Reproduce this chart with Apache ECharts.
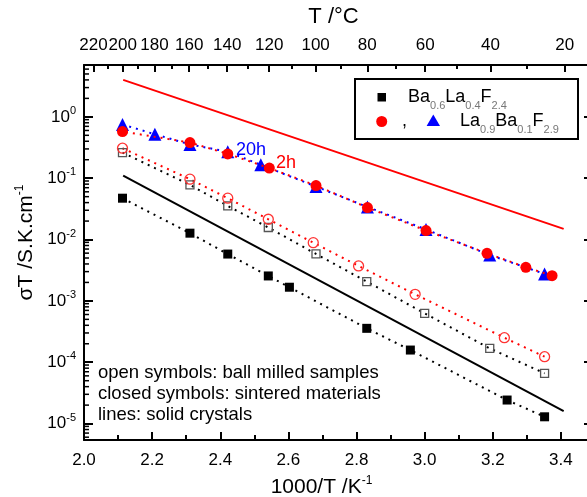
<!DOCTYPE html>
<html><head><meta charset="utf-8">
<script src="https://cdn.jsdelivr.net/npm/echarts@6/dist/echarts.min.js"></script>
<style>html,body{margin:0;padding:0;background:#fff}#c{width:587px;height:497px}</style>
</head><body><div id="c"></div>
<script>
// ---- data (x = 1000/T in K^-1, y = sigma*T in S.K.cm^-1) ----
const closedBaLaX = [2.113, 2.311, 2.422, 2.541, 2.603, 2.830, 2.958, 3.242, 3.352];
const closedBaLaY = [0.0472, 0.0127, 0.0058, 0.00255, 0.00167, 3.57e-4, 1.58e-4, 2.42e-5, 1.29e-5];

const openBaLaX = [2.113, 2.311, 2.422, 2.541, 2.681, 2.830, 3.000, 3.191, 3.352];
const openBaLaY = [0.262, 0.0778, 0.0353, 0.0157, 0.00582, 0.00206, 6.27e-4, 1.68e-4, 6.6e-5];

const openLaBaX = [2.113, 2.311, 2.422, 2.541, 2.673, 2.806, 2.972, 3.234, 3.352];
const openLaBaY = [0.308, 0.0964, 0.0472, 0.0214, 0.0089, 0.00371, 0.00128, 2.51e-4, 1.23e-4];

const closed2hX = [2.113, 2.311, 2.422, 2.544, 2.681, 2.832, 3.004, 3.183, 3.297, 3.374];
const closed2hY = [0.576, 0.381, 0.249, 0.146, 0.0758, 0.0332, 0.0140, 0.00597, 0.00353, 0.00258];

const closed20hX = [2.113, 2.208, 2.311, 2.422, 2.519, 2.681, 2.832, 3.004, 3.191, 3.352];
const closed20hY = [0.75, 0.52, 0.355, 0.27, 0.165, 0.073, 0.034, 0.0146, 0.0056, 0.00275];

const crystalX = [2.115, 3.408];
const crystalLaBaY = [4.0, 0.0149];
const crystalBaLaY = [0.110, 1.6e-5];

const topTempLabels = [220, 200, 180, 160, 140, 120, 100, 80, 60, 40, 20];
const topTempMinor = [210, 190, 170, 150, 130, 110, 90, 70, 50, 30];
const yMinorMult = [2, 3, 4, 5, 6, 7, 8, 9];
const yDecadeExp = [-6, -5, -4, -3, -2, -1, 0];

const X_MIN = 2.0, X_MAX = 3.5, Y_MIN = 5.4e-6, Y_MAX = 7;
const FONT = '"Liberation Sans", Arial, sans-serif';

function pairs(xs, ys) { return xs.map((x, i) => [x, ys[i]]); }
const tToX = t => 1000 / (t + 273.15);
const yMinorVals = [];
yDecadeExp.forEach(e => yMinorMult.forEach(k => {
  const v = k * Math.pow(10, e);
  if (v > Y_MIN && v < Y_MAX) yMinorVals.push(v);
}));

const chart = echarts.init(document.getElementById('c'), null, {renderer: 'canvas'});
const axisLine = {show: true, lineStyle: {color: '#000', width: 2}};
const dotted = (c, off) => ({color: c, width: 2, type: [2, 5], dashOffset: off || 0});

chart.setOption({
  animation: false,
  backgroundColor: '#fff',
  textStyle: {fontFamily: FONT},
  grid: {left: 84, right: -8, top: 65, bottom: 57, containLabel: false, outerBoundsMode: 'none'},
  xAxis: [
    {
      type: 'value', position: 'bottom', min: X_MIN, max: X_MAX, interval: 0.2,
      axisLine: axisLine,
      axisTick: {inside: true, length: 8, lineStyle: {width: 2, color: '#000'}},
      minorTick: {show: true, splitNumber: 2, length: 5, lineStyle: {width: 2, color: '#000'}},
      splitLine: {show: false},
      axisLabel: {
        margin: 12, fontSize: 17, color: '#000', fontFamily: FONT,
        formatter: v => (Math.abs(v * 5 - Math.round(v * 5)) < 1e-6 ? v.toFixed(1) : '')
      },
      name: '1000/T /K{s|-1}', nameLocation: 'middle', nameGap: 35,
      nameTextStyle: {fontSize: 21, color: '#000', fontFamily: FONT, padding: [0, 36, 0, 0],
        rich: {s: {fontSize: 12, color: '#000', padding: [0, 0, 12, 0]}}}
    },
    {
      type: 'value', position: 'top', min: X_MIN, max: X_MAX,
      axisLine: axisLine,
      axisTick: {inside: true, length: 7, lineStyle: {width: 2, color: '#000'},
        customValues: topTempLabels.map(tToX)},
      splitLine: {show: false},
      axisLabel: {
        margin: 11, fontSize: 17, color: '#000', fontFamily: FONT,
        customValues: topTempLabels.map(tToX),
        formatter: v => String(Math.round(1000 / v - 273.15))
      },
      name: 'T /°C', nameLocation: 'middle', nameGap: 37,
      nameTextStyle: {fontSize: 22, color: '#000', fontFamily: FONT, padding: [0, 12, 0, 0]}
    },
    {
      type: 'value', position: 'top', min: X_MIN, max: X_MAX,
      axisLine: {show: false},
      axisTick: {inside: true, length: 4, lineStyle: {width: 2, color: '#000'},
        customValues: topTempMinor.map(tToX)},
      axisLabel: {show: false},
      splitLine: {show: false}
    }
  ],
  yAxis: [
    {
      type: 'log', logBase: 10, position: 'left', min: Y_MIN, max: Y_MAX,
      axisLine: axisLine,
      axisTick: {inside: true, length: 9, lineStyle: {width: 2, color: '#000'}},
      splitLine: {show: false},
      axisLabel: {
        margin: 8, color: '#000', fontFamily: FONT,
        formatter: v => {
          const e = Math.round(Math.log10(v));
          if (Math.abs(v - Math.pow(10, e)) / Math.pow(10, e) > 1e-6) return '';
          return '{b|10}{s|' + e + '}';
        },
        rich: {
          b: {fontSize: 17, color: '#000', fontFamily: FONT},
          s: {fontSize: 11, color: '#000', fontFamily: FONT, padding: [0, 0, 12, 0]}
        }
      },
      name: 'σT /S.K.cm{s|-1}', nameLocation: 'middle', nameGap: 44,
      nameTextStyle: {fontSize: 21, color: '#000', fontFamily: FONT, padding: [0, 0, 0, 20],
        rich: {s: {fontSize: 12, color: '#000', padding: [0, 0, 12, 0]}}}
    },
    {
      type: 'log', logBase: 10, position: 'right', offset: 0, min: Y_MIN, max: Y_MAX,
      axisLine: axisLine,
      axisTick: {inside: true, length: 11, lineStyle: {width: 2, color: '#000'}},
      axisLabel: {show: false},
      splitLine: {show: false}
    }
  ],
  series: [
    {type: 'custom', name: 'y minor ticks', silent: true, clip: false, z: 1,
      data: yMinorVals.map(v => [X_MIN, v]),
      renderItem: (params, api) => {
        const p = api.coord([api.value(0), api.value(1)]);
        return {type: 'line', shape: {x1: p[0], y1: p[1], x2: p[0] + 5, y2: p[1]},
          style: {stroke: '#000', lineWidth: 1.5}};
      }},
    {type: 'line', name: 'crystal LaBa', data: pairs(crystalX, crystalLaBaY), symbol: 'none',
      lineStyle: {color: '#ff0000', width: 2}, z: 2},
    {type: 'line', name: 'crystal BaLa', data: pairs(crystalX, crystalBaLaY), symbol: 'none',
      lineStyle: {color: '#000', width: 2}, z: 2},
    {type: 'line', name: 'open BaLa', data: pairs(openBaLaX, openBaLaY),
      symbol: 'rect', symbolSize: 8, showAllSymbol: true,
      itemStyle: {color: 'rgba(255,255,255,0)', borderColor: '#555', borderWidth: 1.3},
      lineStyle: dotted('#000'), z: 3},
    {type: 'line', name: 'open LaBa', data: pairs(openLaBaX, openLaBaY),
      symbol: 'circle', symbolSize: 10, showAllSymbol: true,
      itemStyle: {color: 'rgba(255,255,255,0)', borderColor: '#ff3333', borderWidth: 1.3},
      lineStyle: dotted('#ff0000'), z: 3},
    {type: 'line', name: 'closed BaLa', data: pairs(closedBaLaX, closedBaLaY),
      symbol: 'rect', symbolSize: 9, showAllSymbol: true,
      itemStyle: {color: '#000'}, lineStyle: dotted('#000'), z: 4},
    {type: 'line', name: 'closed LaBa 20h', data: pairs(closed20hX, closed20hY),
      symbol: 'triangle', symbolSize: 13, showAllSymbol: true,
      itemStyle: {color: '#0000ff'}, lineStyle: dotted('#0000ff'), z: 4},
    {type: 'line', name: 'closed LaBa 2h', data: pairs(closed2hX, closed2hY),
      symbol: 'circle', symbolSize: 11, showAllSymbol: true,
      itemStyle: {color: '#ff0000'}, lineStyle: dotted('#ff0000', 3.5), z: 5}
  ],
  graphic: [
    {type: 'rect', shape: {x: 355, y: 79, width: 223, height: 60},
      style: {fill: '#fff', stroke: '#000', lineWidth: 2}, z: 10},
    {type: 'rect', shape: {x: 377.5, y: 93, width: 8.5, height: 8.5}, style: {fill: '#000'}, z: 11},
    {type: 'text', x: 408, y: 97, z: 11, style: {
      text: 'Ba{s|0.6}La{s|0.4}F{s|2.4}', fontSize: 18, fontFamily: FONT, fill: '#000',
      verticalAlign: 'middle',
      rich: {s: {fontSize: 11, fontFamily: FONT, fill: '#777', padding: [18, 0, 0, 0]}}}},
    {type: 'circle', shape: {cx: 381.7, cy: 121.5, r: 5.5}, style: {fill: '#ff0000'}, z: 11},
    {type: 'text', x: 402, y: 121, z: 11, style: {text: ',', fontSize: 18, fontFamily: FONT, fill: '#000', verticalAlign: 'middle'}},
    {type: 'polygon', shape: {points: [[433.3, 114.5], [440, 126], [426.6, 126]]}, style: {fill: '#0000ff'}, z: 11},
    {type: 'text', x: 460, y: 121, z: 11, style: {
      text: 'La{s|0.9}Ba{s|0.1}F{s|2.9}', fontSize: 18, fontFamily: FONT, fill: '#000',
      verticalAlign: 'middle',
      rich: {s: {fontSize: 11, fontFamily: FONT, fill: '#777', padding: [18, 0, 0, 0]}}}},
    {type: 'text', x: 236, y: 150, z: 11, style: {text: '20h', fontSize: 18, fontFamily: FONT, fill: '#0000ff', verticalAlign: 'middle'}},
    {type: 'text', x: 276, y: 163, z: 11, style: {text: '2h', fontSize: 18, fontFamily: FONT, fill: '#ff0000', verticalAlign: 'middle'}},
    {type: 'text', x: 98, y: 373, z: 11, style: {text: 'open symbols: ball milled samples', fontSize: 18.5, fontFamily: FONT, fill: '#000', verticalAlign: 'middle'}},
    {type: 'text', x: 98, y: 394, z: 11, style: {text: 'closed symbols: sintered materials', fontSize: 18.5, fontFamily: FONT, fill: '#000', verticalAlign: 'middle'}},
    {type: 'text', x: 98, y: 415, z: 11, style: {text: 'lines: solid crystals', fontSize: 18.5, fontFamily: FONT, fill: '#000', verticalAlign: 'middle'}}
  ]
});
</script>
</body></html>
